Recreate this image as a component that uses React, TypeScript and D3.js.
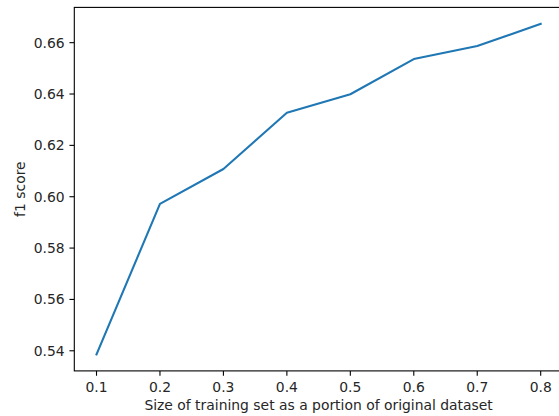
import React from "react";
import * as d3 from "d3";

const sizes = [0.1, 0.2, 0.3, 0.4, 0.5, 0.6, 0.7, 0.8];
const f1Scores = [0.5386, 0.5972, 0.6108, 0.6327, 0.6399, 0.6536, 0.6587, 0.6673];
const xTicks = [0.1, 0.2, 0.3, 0.4, 0.5, 0.6, 0.7, 0.8];
const yTicks = [0.54, 0.56, 0.58, 0.6, 0.62, 0.64, 0.66];
const xLabel = "Size of training set as a portion of original dataset";
const yLabel = "f1 score";

const W = 559;
const H = 416;
const left = 74.3;
const right = 562.9;
const top = 7.4;
const bottom = 370.9;
const font = "DejaVu Sans, sans-serif";
const fs = 13.9;
const tickLen = 4.86;

export default function App() {
  const [x0, x1] = d3.extent(sizes) as [number, number];
  const xm = (x1 - x0) * 0.05;
  const [y0, y1] = d3.extent(f1Scores) as [number, number];
  const ym = (y1 - y0) * 0.05;
  const x = d3.scaleLinear().domain([x0 - xm, x1 + xm]).range([left, right]);
  const y = d3.scaleLinear().domain([y0 - ym, y1 + ym]).range([bottom, top]);
  const line = d3
    .line<number>()
    .x((_, i) => x(sizes[i]))
    .y((d) => y(d));

  return (
    <svg
      width={W}
      height={H}
      style={{ position: "absolute", left: 0, top: 0, background: "#fff" }}
      fontFamily={font}
    >
      <rect x={0} y={0} width={W} height={H} fill="#fff" />
      <path d={line(f1Scores) ?? ""} fill="none" stroke="#1f77b4" strokeWidth={2.08} strokeLinecap="square" strokeLinejoin="round" />
      {/* spines */}
      <rect x={left} y={top} width={right - left} height={bottom - top} fill="none" stroke="#000" strokeWidth={1.1} />
      {xTicks.map((t) => (
        <g key={"x" + t}>
          <line x1={x(t)} x2={x(t)} y1={bottom} y2={bottom + tickLen} stroke="#000" strokeWidth={1.1} />
          <text x={x(t)} y={392} textAnchor="middle" fontSize={fs} fill="#262626">
            {t.toFixed(1)}
          </text>
        </g>
      ))}
      {yTicks.map((t) => (
        <g key={"y" + t}>
          <line x1={left - tickLen} x2={left} y1={y(t)} y2={y(t)} stroke="#000" strokeWidth={1.1} />
          <text x={left - 9.7} y={y(t)} dy="0.36em" textAnchor="end" fontSize={fs} fill="#262626">
            {t.toFixed(2)}
          </text>
        </g>
      ))}
      <text x={(left + right) / 2} y={410} textAnchor="middle" fontSize={fs} fill="#262626">
        {xLabel}
      </text>
      <text
        transform={`translate(25, ${(top + bottom) / 2}) rotate(-90)`}
        textAnchor="middle"
        fontSize={fs}
        fill="#262626"
      >
        {yLabel}
      </text>
    </svg>
  );
}
